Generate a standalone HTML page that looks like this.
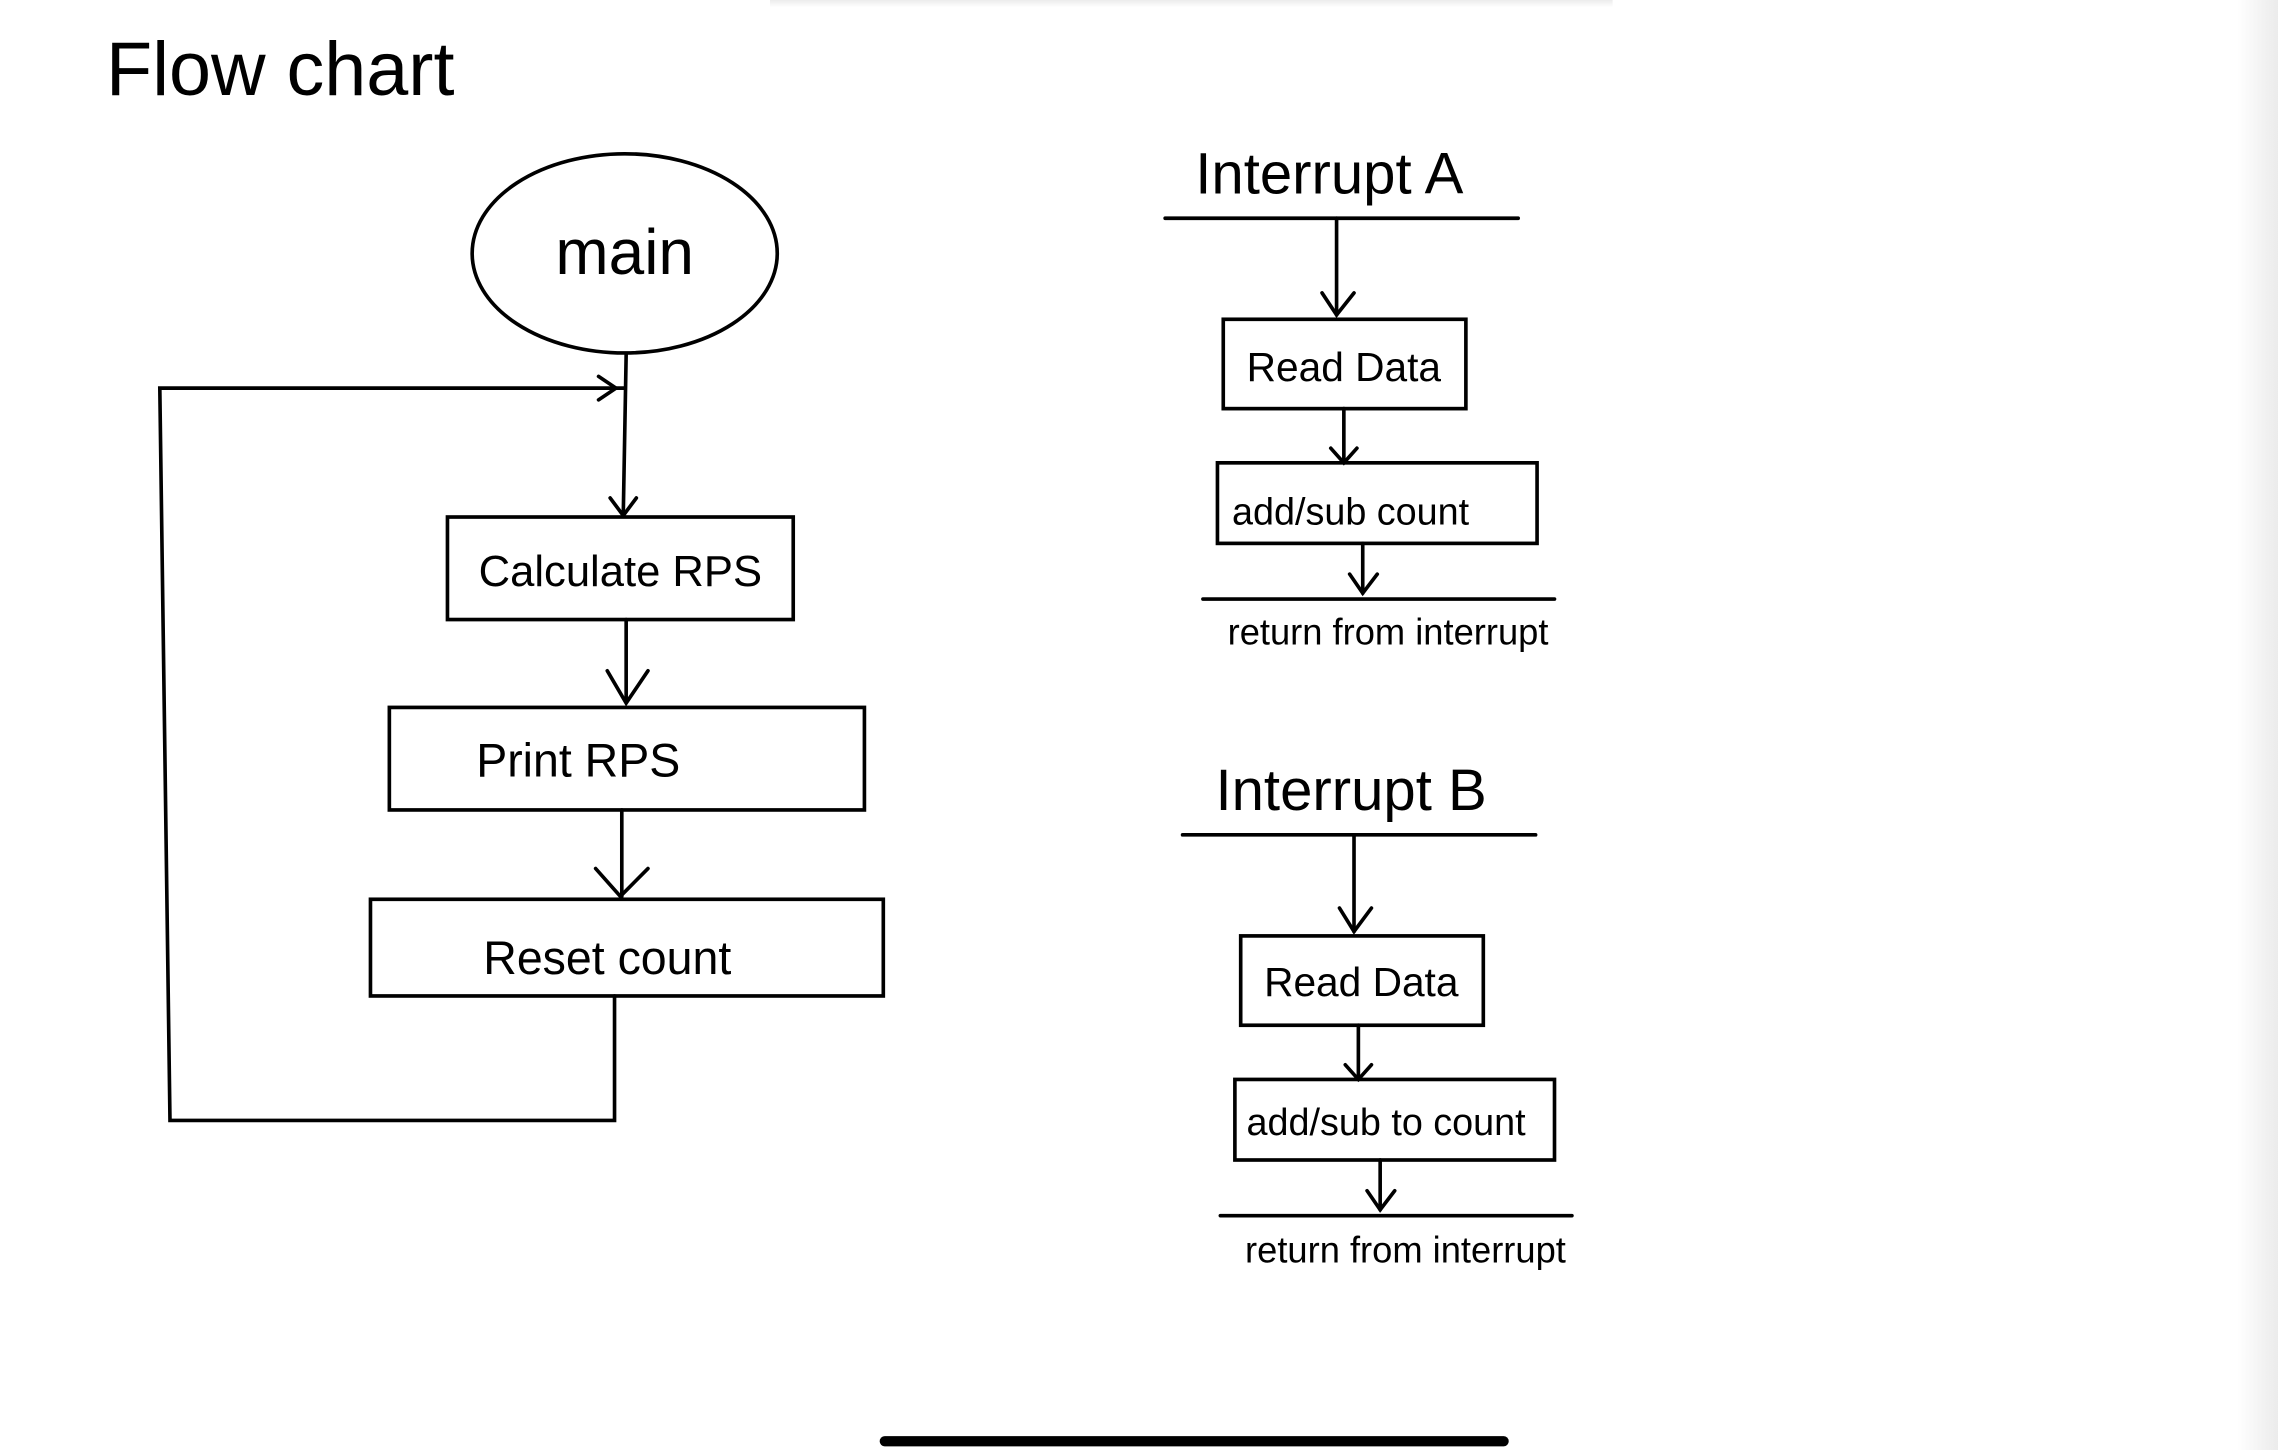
<!DOCTYPE html>
<html><head><meta charset="utf-8"><style>
html,body{margin:0;padding:0;background:#fff;width:2278px;height:1450px;overflow:hidden}
svg{display:block}
text{font-family:"Liberation Sans",sans-serif;fill:#000}
</style></head><body>
<svg width="2278" height="1450" viewBox="0 0 1568 990" preserveAspectRatio="none" xmlns="http://www.w3.org/2000/svg">
<defs>
<linearGradient id="rg" x1="0" x2="1"><stop offset="0" stop-color="#fff"/><stop offset="1" stop-color="#ebebeb"/></linearGradient>
<linearGradient id="tg" x1="0" y1="0" x2="0" y2="1"><stop offset="0" stop-color="#ececec"/><stop offset="1" stop-color="#fff"/></linearGradient>
</defs>
<rect x="1540" y="0" width="28" height="990" fill="url(#rg)"/>
<rect x="530" y="0" width="580" height="5" fill="url(#tg)"/>
<g stroke="#000" stroke-width="2.5" fill="none" stroke-linecap="round">
<ellipse cx="430" cy="173" rx="105" ry="68"/>
<polyline points="430,265 110,265 117,765 423,765 423,680"/>
<polyline points="412,257 424,265 412,273"/>
<line x1="431" y1="242" x2="429" y2="352"/>
<polyline points="420,340 429,352 438,340"/>
<rect x="308" y="353" width="238" height="70"/>
<line x1="431" y1="423" x2="431" y2="478"/>
<polyline points="418,458 431,480 446,458"/>
<rect x="268" y="483" width="327" height="70"/>
<line x1="428" y1="553" x2="428" y2="612"/>
<polyline points="410,593 427,612 446,593"/>
<rect x="255" y="614" width="353" height="66"/>
<line x1="802" y1="149" x2="1045" y2="149"/>
<line x1="920" y1="149" x2="920" y2="215"/>
<polyline points="910,200 920,215 932,200"/>
<rect x="842" y="218" width="167" height="61"/>
<line x1="925" y1="279" x2="925" y2="316"/>
<polyline points="916,306 925,316 934,306"/>
<rect x="838" y="316" width="220" height="55"/>
<line x1="938" y1="371" x2="938" y2="405"/>
<polyline points="929,392 938,405 948,392"/>
<line x1="828" y1="409" x2="1070" y2="409"/>
<line x1="814" y1="570" x2="1057" y2="570"/>
<line x1="932" y1="570" x2="932" y2="636"/>
<polyline points="922,620 932,636 944,620"/>
<rect x="854" y="639" width="167" height="61"/>
<line x1="935" y1="700" x2="935" y2="737"/>
<polyline points="926,727 935,737 944,727"/>
<rect x="850" y="737" width="220" height="55"/>
<line x1="950" y1="792" x2="950" y2="826"/>
<polyline points="941,813 950,826 960,813"/>
<line x1="840" y1="830" x2="1082" y2="830"/>
</g>
<line x1="609" y1="984" x2="1035" y2="984" stroke="#000" stroke-width="7" stroke-linecap="round"/>
<text x="73" y="65" font-size="52">Flow chart</text>
<text x="430" y="187" font-size="44" text-anchor="middle">main</text>
<text x="427" y="400" font-size="30" text-anchor="middle">Calculate RPS</text>
<text x="398" y="530" font-size="32" text-anchor="middle">Print RPS</text>
<text x="418" y="665" font-size="32" text-anchor="middle">Reset count</text>
<text x="915" y="132" font-size="40" text-anchor="middle">Interrupt A</text>
<text x="925" y="260" font-size="28" text-anchor="middle">Read Data</text>
<text x="848" y="358" font-size="26">add/sub count</text>
<text x="845" y="440" font-size="25">return from interrupt</text>
<text x="930" y="553" font-size="40" text-anchor="middle">Interrupt B</text>
<text x="937" y="680" font-size="28" text-anchor="middle">Read Data</text>
<text x="858" y="775" font-size="26">add/sub to count</text>
<text x="857" y="862" font-size="25">return from interrupt</text>
</svg>
</body></html>
